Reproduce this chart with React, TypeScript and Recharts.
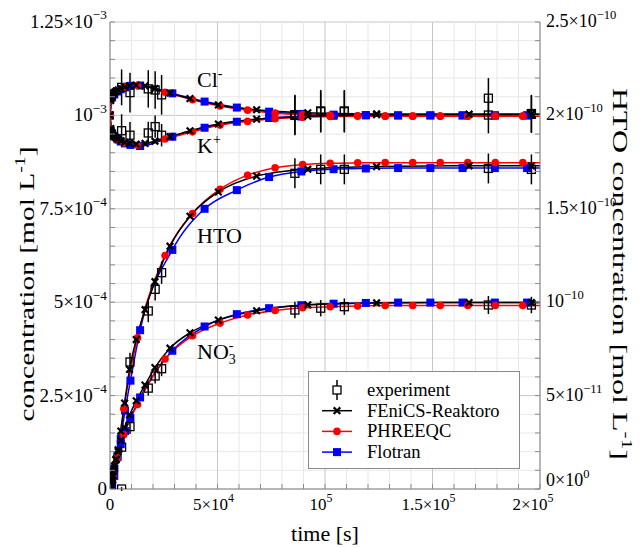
import React from 'react';
import {
  ComposedChart, Line, Scatter, ErrorBar, XAxis, YAxis, CartesianGrid, Legend, ReferenceDot, Label,
} from 'recharts';

// time axes of each data set [s]
const tFenics = [0, 360, 485, 650, 870, 1170, 1560, 2100, 2810, 3770, 5050, 6800, 9100, 12200, 16300, 20900, 27900, 37200, 50400, 68200, 92000, 124000, 167000, 196000, 200000];
const tPhreeqc = [0, 1600, 3200, 6400, 12800, 25600, 38400, 51200, 64000, 76800, 89600, 102400, 115200, 128000, 140800, 153600, 166400, 179200, 192000, 200000];
const tFlotran = [0, 1000, 2000, 3500, 5000, 7000, 9500, 14000, 29000, 44000, 59000, 74000, 89000, 104000, 119000, 134000, 149000, 164000, 179000, 194000, 200000];
const tExp = [5400, 9300, 17800, 21000, 24000, 86000, 98000, 109000, 176000, 196000];

// Cl-, K+, NO3- in 1e-3 mol/L ; HTO in 1e-10 mol/L
const clFenics = [1.0, 1.040, 1.045, 1.049, 1.053, 1.056, 1.059, 1.062, 1.065, 1.068, 1.072, 1.076, 1.079, 1.081, 1.079, 1.072, 1.060, 1.045, 1.028, 1.015, 1.007, 1.004, 1.003, 1.003, 1.003];
const kFenics = [1.0, 0.965, 0.960, 0.956, 0.952, 0.949, 0.946, 0.943, 0.940, 0.936, 0.932, 0.928, 0.925, 0.923, 0.925, 0.931, 0.943, 0.959, 0.977, 0.990, 0.998, 1.002, 1.003, 1.003, 1.003];
const htoFenics = [0, 0.01, 0.015, 0.022, 0.032, 0.048, 0.07, 0.11, 0.155, 0.21, 0.31, 0.46, 0.64, 0.80, 0.96, 1.11, 1.30, 1.46, 1.59, 1.675, 1.712, 1.726, 1.73, 1.73, 1.73];
const no3Fenics = [0, 0.01, 0.014, 0.02, 0.027, 0.036, 0.047, 0.062, 0.08, 0.1, 0.13, 0.165, 0.198, 0.236, 0.278, 0.325, 0.377, 0.418, 0.452, 0.477, 0.493, 0.498, 0.499, 0.499, 0.499];

const clPhreeqc = [1.0, 1.055, 1.066, 1.075, 1.080, 1.062, 1.042, 1.025, 1.014, 1.006, 1.002, 1.000, 0.999, 0.998, 0.998, 0.998, 0.998, 0.998, 0.998, 0.998];
const kPhreeqc = [1.0, 0.945, 0.935, 0.926, 0.920, 0.937, 0.956, 0.974, 0.984, 0.991, 0.995, 0.997, 0.998, 0.998, 0.998, 0.998, 0.998, 0.998, 0.998, 0.998];
const htoPhreeqc = [0, 0.06, 0.17, 0.43, 0.81, 1.25, 1.475, 1.605, 1.68, 1.72, 1.737, 1.744, 1.746, 1.747, 1.747, 1.747, 1.747, 1.747, 1.747, 1.747];
const no3Phreeqc = [0, 0.04, 0.08, 0.145, 0.226, 0.348, 0.41, 0.444, 0.466, 0.478, 0.485, 0.488, 0.49, 0.491, 0.491, 0.491, 0.491, 0.491, 0.491, 0.491];

const clFlotran = [1.0, 1.048, 1.056, 1.064, 1.070, 1.075, 1.079, 1.080, 1.059, 1.037, 1.021, 1.010, 1.004, 1.002, 1.001, 1.0, 1.0, 1.0, 1.0, 1.0, 1.0];
const kFlotran = [1.0, 0.952, 0.944, 0.936, 0.930, 0.925, 0.921, 0.918, 0.943, 0.967, 0.983, 0.993, 0.997, 0.999, 1.0, 1.0, 1.0, 1.0, 1.0, 1.0, 1.0];
const htoFlotran = [0, 0.02, 0.07, 0.17, 0.27, 0.42, 0.58, 0.85, 1.28, 1.50, 1.60, 1.67, 1.70, 1.712, 1.716, 1.718, 1.718, 1.718, 1.718, 1.718, 1.718];
const no3Flotran = [0, 0.025, 0.055, 0.09, 0.12, 0.155, 0.19, 0.245, 0.37, 0.435, 0.468, 0.484, 0.492, 0.496, 0.498, 0.499, 0.499, 0.499, 0.499, 0.499, 0.499];

const clExp = [1.075, 1.061, 1.071, 1.068, 1.055, 1.002, 1.012, 1.012, 1.046, 1.005];
const clErr = [0.048, 0.053, 0.05, 0.05, 0.053, 0.053, 0.056, 0.056, 0.054, 0.05];
const kExp = [0.959, 0.947, 0.953, 0.970, 0.947, 1.0, 1.01, 1.01, 1.001, 1.003];
const kErr = [0.044, 0.035, 0.03, 0.03, 0.03, 0.053, 0.056, 0.056, 0.049, 0.05];
const htoExp = [0.0, 0.68, 0.953, 1.069, 1.158, 1.69, 1.711, 1.711, 1.716, 1.711];
const htoErr = [0.01, 0.05, 0.06, 0.06, 0.06, 0.08, 0.08, 0.08, 0.08, 0.08];
const no3Exp = [0.112, 0.167, 0.27, 0.3025, 0.322, 0.479, 0.484, 0.488, 0.4925, 0.4925];
const no3Err = [0.015, 0.02, 0.02, 0.02, 0.02, 0.022, 0.022, 0.022, 0.024, 0.022];

// tick labels
const xMajor = [0, 50000, 100000, 150000, 200000];
const xMant = ['0', '5×10', '10', '1.5×10', '2×10'];
const xExp = ['', '4', '5', '5', '5'];
const leftMajor = [0, 0.25, 0.5, 0.75, 1, 1.25];
const leftMant = ['0', '2.5×10', '5×10', '7.5×10', '10', '1.25×10'];
const leftExp = ['', '−4', '−4', '−4', '−3', '−3'];
const rightMajor = [0, 0.5, 1, 1.5, 2, 2.5];
const rightMant = ['0×10', '5×10', '10', '1.5×10', '2×10', '2.5×10'];
const rightExp = ['0', '−11', '−10', '−10', '−10', '−10'];
const legendNames = ['experiment', 'FEniCS-Reaktoro', 'PHREEQC', 'Flotran'];

const xTicks = Array.from({ length: 21 }, (_, i) => i * 10000);
const leftTicks = Array.from({ length: 26 }, (_, i) => +(i * 0.05).toFixed(2));
const rightTicks = Array.from({ length: 26 }, (_, i) => +(i * 0.1).toFixed(1));

const pts = (t: number[], v: number[]) => t.map((x, i) => ({ t: x, v: v[i] }));
const expPts = (v: number[], e: number[]) => tExp.map((x, i) => ({ t: x, v: v[i], e: e[i] }));

const FONT = 'Liberation Serif';
const AXIS = '#8a8a8a';
const GRID_MAJOR = '#c6c6c6';
const GRID_MINOR = '#e8e8e8';
const RED = '#ff0000';
const BLUE = '#0000ff';

const findIdx = (arr: number[], v: number) => arr.findIndex((a) => Math.abs(a - v) < 1e-9);

const supText = (mant: string, ex: string, x: number, y: number, anchor: string, size: number) => (
  <text x={x} y={y} textAnchor={anchor} style={{ fontFamily: FONT }} fontSize={size} fill="#000">
    {mant}
    {ex ? <tspan dy={-size * 0.45} fontSize={size * 0.7}>{ex}</tspan> : null}
  </text>
);

const BottomTick = (p: any) => {
  const i = findIdx(xMajor, p.payload.value);
  const shift = i > 0 ? (i === xMajor.length - 1 ? -7 : -4) : 0;
  return (
    <g>
      <line x1={p.x} x2={p.x} y1={p.y} y2={p.y - 5} stroke={AXIS} />
      {i >= 0 && supText(xMant[i], xExp[i], p.x + shift, p.y + 21, 'middle', 17)}
    </g>
  );
};
const TopTick = (p: any) => <line x1={p.x} x2={p.x} y1={p.y} y2={p.y + 5} stroke={AXIS} />;
const LeftTick = (p: any) => {
  const i = findIdx(leftMajor, p.payload.value);
  return (
    <g>
      <line x1={p.x} x2={p.x + 5} y1={p.y} y2={p.y} stroke={AXIS} />
      {i >= 0 && supText(leftMant[i], leftExp[i], p.x - 3, p.y + 6, 'end', 19)}
    </g>
  );
};
const RightTick = (p: any) => {
  const i = findIdx(rightMajor, p.payload.value);
  return (
    <g>
      <line x1={p.x} x2={p.x - 5} y1={p.y} y2={p.y} stroke={AXIS} />
      {i >= 0 && supText(rightMant[i], rightExp[i], p.x + 6, p.y + (i === 0 ? -3 : 5), 'start', 18)}
    </g>
  );
};

const gridH = (p: any) => (
  <line key={`h${p.index}`} x1={p.x1} x2={p.x2} y1={p.y1} y2={p.y2} stroke={p.index % 5 === 0 ? GRID_MAJOR : GRID_MINOR} />
);
const gridV = (p: any) => (
  <line key={`v${p.index}`} x1={p.x1} x2={p.x2} y1={p.y1} y2={p.y2} stroke={p.index % 5 === 0 ? GRID_MAJOR : GRID_MINOR} />
);

// markers
const cross = (p: any) => {
  const { cx, cy, payload } = p;
  if (cx == null || payload.t >= 200000) return <g />;
  const s = 3.3;
  return <path d={`M${cx - s},${cy - s}L${cx + s},${cy + s}M${cx - s},${cy + s}L${cx + s},${cy - s}`} stroke="#000" strokeWidth={2.2} fill="none" />;
};
const circle = (p: any) => {
  if (p.cx == null || p.payload.t >= 200000) return <g />;
  return <circle cx={p.cx} cy={p.cy} r={3.8} fill={RED} />;
};
const square = (p: any) => {
  if (p.cx == null || p.payload.t >= 200000) return <g />;
  return <rect x={p.cx - 4} y={p.cy - 4} width={8} height={8} fill={BLUE} />;
};
const openSquare = (p: any) => (
  <rect x={p.cx - 4} y={p.cy - 4} width={8} height={8} fill="none" stroke="#000" strokeWidth={1.3} />
);

const XTitle = (p: any) => {
  const vb = p.viewBox;
  return (
    <text x={vb.x + vb.width / 2} y={vb.y + 52} textAnchor="middle" style={{ fontFamily: FONT }} fontSize={22} fill="#000">
      time [s]
    </text>
  );
};
const LeftTitle = (p: any) => {
  const vb = p.viewBox;
  const x = vb.x + 34;
  const y = vb.y + 262;
  return (
    <text x={x} y={y} transform={`rotate(-90, ${x}, ${y})`} textAnchor="middle" style={{ fontFamily: FONT }} fontSize={21} fill="#000"
      textLength={275} lengthAdjust="spacingAndGlyphs">
      concentration [mol L<tspan dy={-9} fontSize={14}>-1</tspan><tspan dy={9}>]</tspan>
    </text>
  );
};
const RightTitle = (p: any) => {
  const vb = p.viewBox;
  const x = vb.x + 73;
  const y = vb.y + 252;
  return (
    <text x={x} y={y} transform={`rotate(90, ${x}, ${y})`} textAnchor="middle" style={{ fontFamily: FONT }} fontSize={21} fill="#000"
      textLength={372} lengthAdjust="spacingAndGlyphs">
      HTO concentration [mol L<tspan dy={-9} fontSize={14}>-1</tspan><tspan dy={9}>]</tspan>
    </text>
  );
};

// curve annotations, anchored in data coordinates (left axis units)
const curveNotes = [
  { t: 40500, v: 1.076, base: 'Cl', sup: '-', sub: '' },
  { t: 40500, v: 0.899, base: 'K', sup: '+', sub: '' },
  { t: 40500, v: 0.659, base: 'HTO', sup: '', sub: '' },
  { t: 40500, v: 0.348, base: 'NO', sup: '-', sub: '3' },
];
const noteShape = (n: typeof curveNotes[number]) => (p: any) => (
  <text x={p.cx} y={p.cy} style={{ fontFamily: FONT }} fontSize={22} fill="#000">
    {n.base}
    {n.sub ? <tspan dy={5} fontSize={14}>{n.sub}</tspan> : null}
    {n.sup ? <tspan dx={n.sub ? -7 : 0} dy={n.sub ? -14 : -9} fontSize={14}>{n.sup}</tspan> : null}
  </text>
);

const LegendBox = () => (
  <svg width={212} height={98} style={{ display: 'block' }}>
    <rect x={0.5} y={0.5} width={211} height={97} fill="#fff" stroke={AXIS} />
    {legendNames.map((name, i) => {
      const cy = 19 + i * 20.7;
      const cx = 29;
      let icon = null;
      if (i === 0) {
        icon = (
          <g>
            <line x1={cx} x2={cx} y1={cy - 10} y2={cy + 10} stroke="#000" strokeWidth={1.5} />
            <rect x={cx - 4} y={cy - 4} width={8} height={8} fill="#fff" stroke="#000" strokeWidth={1.3} />
          </g>
        );
      } else if (i === 1) {
        icon = (
          <g>
            <line x1={cx - 15} x2={cx + 15} y1={cy} y2={cy} stroke="#000" strokeWidth={1.5} />
            {cross({ cx, cy, payload: { t: 0 } })}
          </g>
        );
      } else if (i === 2) {
        icon = (
          <g>
            <line x1={cx - 15} x2={cx + 15} y1={cy} y2={cy} stroke={RED} strokeWidth={1.5} />
            <circle cx={cx} cy={cy} r={3.8} fill={RED} />
          </g>
        );
      } else {
        icon = (
          <g>
            <line x1={cx - 15} x2={cx + 15} y1={cy} y2={cy} stroke={BLUE} strokeWidth={1.5} />
            <rect x={cx - 4} y={cy - 4} width={8} height={8} fill={BLUE} />
          </g>
        );
      }
      return (
        <g key={name}>
          {icon}
          <text x={59} y={cy + 6} style={{ fontFamily: FONT }} fontSize={18.5} fill="#000">{name}</text>
        </g>
      );
    })}
  </svg>
);

const species = [
  { axis: 'left', fenics: clFenics, phreeqc: clPhreeqc, flotran: clFlotran, exp: clExp, err: clErr },
  { axis: 'left', fenics: kFenics, phreeqc: kPhreeqc, flotran: kFlotran, exp: kExp, err: kErr },
  { axis: 'right', fenics: htoFenics, phreeqc: htoPhreeqc, flotran: htoFlotran, exp: htoExp, err: htoErr },
  { axis: 'left', fenics: no3Fenics, phreeqc: no3Phreeqc, flotran: no3Flotran, exp: no3Exp, err: no3Err },
];

export default function App() {
  return (
    <div style={{ position: 'absolute', left: 0, top: 0, width: 641, height: 548, background: '#fff', fontFamily: FONT }}>
      <ComposedChart width={641} height={548} margin={{ top: 22, right: 0, bottom: 0, left: 0 }}>
        <CartesianGrid yAxisId="left" horizontal={gridH} vertical={gridV} />
        <XAxis
          dataKey="t" type="number" domain={[0, 200000]} ticks={xTicks} interval={0} height={59}
          tickSize={0} tickMargin={0} tickLine={false} axisLine={{ stroke: AXIS }} tick={BottomTick} allowDataOverflow
        >
          <Label content={XTitle} />
        </XAxis>
        <XAxis
          xAxisId="top" orientation="top" dataKey="t" type="number" domain={[0, 200000]} ticks={xTicks} interval={0}
          height={0} tickSize={0} tickMargin={0} tickLine={false} axisLine={{ stroke: AXIS }} tick={TopTick} allowDataOverflow
        />
        <YAxis
          yAxisId="left" dataKey="v" type="number" domain={[0, 1.25]} ticks={leftTicks} interval={0} width={110}
          tickSize={0} tickMargin={0} tickLine={false} axisLine={{ stroke: AXIS }} tick={LeftTick} allowDataOverflow
        >
          <Label content={LeftTitle} />
        </YAxis>
        <YAxis
          yAxisId="right" orientation="right" dataKey="v" type="number" domain={[0, 2.5]} ticks={rightTicks} interval={0} width={101}
          tickSize={0} tickMargin={0} tickLine={false} axisLine={{ stroke: AXIS }} tick={RightTick} allowDataOverflow
        >
          <Label content={RightTitle} />
        </YAxis>

        {species.map((s, k) => (
          <Line key={`fl${k}`} data={pts(tFlotran, s.flotran)} dataKey="v" yAxisId={s.axis} type="monotone"
            stroke={BLUE} strokeWidth={1.5} dot={square} activeDot={false} isAnimationActive={false} />
        ))}
        {species.map((s, k) => (
          <Line key={`ph${k}`} data={pts(tPhreeqc, s.phreeqc)} dataKey="v" yAxisId={s.axis} type="monotone"
            stroke={RED} strokeWidth={1.5} dot={circle} activeDot={false} isAnimationActive={false} />
        ))}
        {species.map((s, k) => (
          <Line key={`fe${k}`} data={pts(tFenics, s.fenics)} dataKey="v" yAxisId={s.axis} type="monotone"
            stroke="#000" strokeWidth={1.5} dot={cross} activeDot={false} isAnimationActive={false} />
        ))}
        {species.map((s, k) => (
          <Scatter key={`ex${k}`} data={expPts(s.exp, s.err)} dataKey="v" yAxisId={s.axis} shape={openSquare} isAnimationActive={false}>
            <ErrorBar dataKey="e" direction="y" width={0} stroke="#000" strokeWidth={1.5} isAnimationActive={false} />
          </Scatter>
        ))}

        {curveNotes.map((n) => (
          <ReferenceDot key={n.base} x={n.t} y={n.v} yAxisId="left" r={0} shape={noteShape(n)} />
        ))}

        <Legend
          layout="vertical" align="center" verticalAlign="middle" content={LegendBox}
          wrapperStyle={{ left: 308, top: 371, width: 212, height: 98 }}
        />
      </ComposedChart>
    </div>
  );
}
